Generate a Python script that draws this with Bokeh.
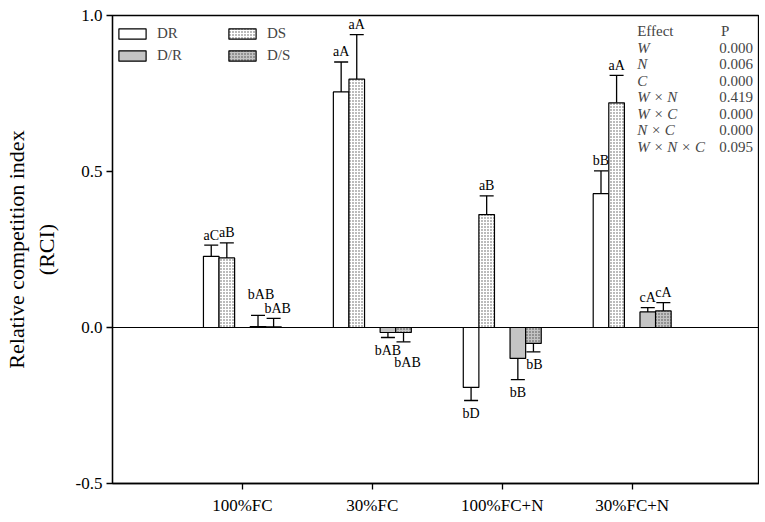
from bokeh.plotting import figure
from bokeh.models import (ColumnDataSource, Whisker, TeeHead, Span, Legend, LegendItem,
                          FixedTicker, NumeralTickFormatter, Range1d, Label)
from bokeh.core.properties import value
from bokeh.embed import file_html
from bokeh.resources import INLINE

categories = ["100%FC", "30%FC", "100%FC+N", "30%FC+N"]
series = ["DR", "DS", "D/R", "D/S"]

dr = [0.228, 0.755, -0.192, 0.429]
dr_err = [0.036, 0.096, 0.042, 0.073]
ds = [0.223, 0.796, 0.362, 0.720]
ds_err = [0.048, 0.143, 0.060, 0.088]
d_r = [0.003, -0.016, -0.099, 0.050]
d_r_err = [0.036, 0.016, 0.068, 0.014]
d_s = [0.002, -0.016, -0.051, 0.053]
d_s_err = [0.027, 0.030, 0.027, 0.027]

dr_letters = ["aC", "aA", "bD", "bB"]
ds_letters = ["aB", "aA", "aB", "aA"]
d_r_letters = ["bAB", "bAB", "bB", "cA"]
d_s_letters = ["bAB", "bAB", "bB", "cA"]

effects = ["W", "N", "C", "W × N", "W × C", "N  × C", "W × N × C"]
p_values = ["0.000", "0.006", "0.000", "0.419", "0.000", "0.000", "0.095"]

# label nudges (screen px) for readability, as in the original
nudge_x = {"DR": [0, 0, 0, 0], "DS": [0, 0, 0, 0], "D/R": [3, 0, 0, 0], "D/S": [4, 4, 1, 0]}
nudge_y = {"DR": [0, 0, 0, 0], "DS": [0, 0, 0, 0], "D/R": [-11, 0, 0, 0], "D/S": [0, 8, 0, 0]}

FONT = "Liberation Serif"
FW, FH = 647, 468

p = figure(frame_width=FW, frame_height=FH, output_backend="svg", toolbar_location=None,
           x_range=Range1d(0, 4.98), y_range=Range1d(-0.5, 1.0),
           min_border_left=102, min_border_right=0, min_border_top=15, min_border_bottom=32)
p.xgrid.visible = False
p.ygrid.visible = False
p.outline_line_color = "black"
p.outline_line_width = 1.3
p.background_fill_color = "white"
p.border_fill_color = "white"

width = 0.12
offsets = [-0.24, -0.12, 0.12, 0.24]
styles = {
    "DR": dict(fill_color="white"),
    "DS": dict(fill_color="white", hatch_pattern="dot", hatch_color="#555555", hatch_scale=3.0, hatch_weight=1.0),
    "D/R": dict(fill_color="#c4c4c4"),
    "D/S": dict(fill_color="#c4c4c4", hatch_pattern="dot", hatch_color="#444444", hatch_scale=3.0, hatch_weight=1.0),
}
vals = {"DR": (dr, dr_err, dr_letters), "DS": (ds, ds_err, ds_letters),
        "D/R": (d_r, d_r_err, d_r_letters), "D/S": (d_s, d_s_err, d_s_letters)}

renderers = {}
for s, off in zip(series, offsets):
    v, e, lett = vals[s]
    xs = [i + 1 + off for i in range(len(categories))]
    ends = [vv + (ee if vv >= 0 else -ee) for vv, ee in zip(v, e)]
    yoff = [(-10 if vv >= 0 else 13) + ny for vv, ny in zip(v, nudge_y[s])]
    src = ColumnDataSource(dict(x=xs, top=v, end=ends, text=lett, yoff=yoff, xoff=nudge_x[s]))
    r = p.vbar(x="x", top="top", bottom=0, width=width, source=src,
               line_color="black", line_width=1.2, **styles[s])
    renderers[s] = r
    w = Whisker(base="x", lower="top", upper="end", source=src, line_color="black", line_width=1.3,
                upper_head=TeeHead(size=14, line_color="black", line_width=1.3), lower_head=None)
    p.add_layout(w)
    p.text(x="x", y="end", text="text", source=src, x_offset="xoff", y_offset="yoff",
           text_align="center", text_baseline="middle", text_font=value(FONT),
           text_font_size="14px", text_color="black")

p.add_layout(Span(location=0, dimension="width", line_color="black", line_width=1.2))

# axes
p.xaxis.ticker = FixedTicker(ticks=[1, 2, 3, 4])
p.xaxis.major_label_overrides = {i + 1: c for i, c in enumerate(categories)}
p.yaxis.ticker = FixedTicker(ticks=[-0.5, 0.0, 0.5, 1.0])
p.yaxis.formatter = NumeralTickFormatter(format="0.0")
for ax in (p.xaxis, p.yaxis):
    ax.major_tick_out = 6
    ax.major_tick_in = 0
    ax.minor_tick_out = 0
    ax.minor_tick_in = 0
    ax.axis_line_color = "black"
    ax.axis_line_width = 1.3
    ax.major_tick_line_width = 1.3
    ax.major_label_text_font = FONT
    ax.major_label_text_font_size = "17px"
    ax.major_label_text_color = "black"
p.xaxis.major_label_standoff = 6
p.yaxis.major_label_standoff = 4
p.yaxis.axis_label = "Relative competition index\n(RCI)"
p.yaxis.axis_label_text_font = FONT
p.yaxis.axis_label_text_font_size = "22px"
p.yaxis.axis_label_text_font_style = "normal"
p.yaxis.axis_label_text_color = "black"
p.yaxis.axis_label_standoff = 14

# legends
def make_legend(names, x):
    return Legend(items=[LegendItem(label=n, renderers=[renderers[n]]) for n in names],
                  location=(x, FH - 4 - 45), padding=0, margin=0, spacing=5,
                  glyph_width=34, glyph_height=13, label_standoff=8,
                  label_text_font=FONT, label_text_font_size="15px",
                  border_line_color=None, background_fill_alpha=0)

p.add_layout(make_legend(["DR", "D/R"], 3))
p.add_layout(make_legend(["DS", "D/S"], 113))

# effect table
def px_to_x(px):
    return (px - 110) / 130.0

def py_to_y(py):
    return (328.3 - py) / 313.3

row0 = 30.7
dy = 16.6
p.add_layout(Label(x=px_to_x(635), y=py_to_y(row0), text="Effect", text_font=FONT,
                   text_font_size="15px", text_baseline="middle", text_align="left"))
p.add_layout(Label(x=px_to_x(719), y=py_to_y(row0), text="P", text_font=FONT,
                   text_font_size="15px", text_baseline="middle", text_align="left"))
for i, (ef, pv) in enumerate(zip(effects, p_values)):
    yy = py_to_y(row0 + dy * (i + 1))
    p.add_layout(Label(x=px_to_x(635), y=yy, text=ef, text_font=FONT, text_font_style="italic",
                       text_font_size="15px", text_baseline="middle", text_align="left"))
    p.add_layout(Label(x=px_to_x(751), y=yy, text=pv, text_font=FONT,
                       text_font_size="15px", text_baseline="middle", text_align="right"))

open("out.html", "w").write(file_html(p, INLINE))
